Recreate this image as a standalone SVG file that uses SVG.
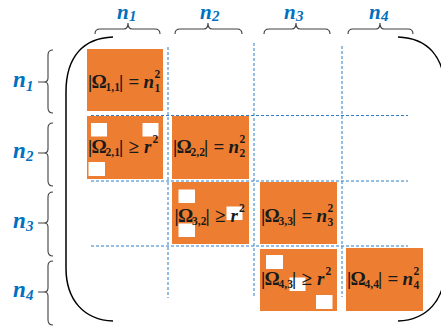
<svg xmlns="http://www.w3.org/2000/svg" width="441" height="331" viewBox="0 0 441 331">
<style>
.blk{fill:#ED7D31}
.occ{fill:#FFFFFF}
.t{font-family:"Liberation Serif",serif;font-weight:bold;font-size:19px;fill:#1A1A1A}
.s{font-size:11.5px}
.i{font-style:italic}
.lbl{font-family:"Liberation Serif",serif;font-weight:bold;font-style:italic;font-size:23px;fill:#0070C0}
.top{font-size:21px}
.lsub{font-size:15px;font-style:italic}
.brace{fill:none;stroke:#404040;stroke-width:1.1}
.grid{fill:none;stroke:#2E7DC6;stroke-width:1;stroke-dasharray:3 2}
.paren{fill:none;stroke:#000;stroke-width:1.5}
</style>
<rect width="441" height="331" fill="#FFFFFF"/>

<g id="connectors">
  <g id="grid">
    <line class="grid" x1="168" y1="47" x2="168" y2="298"/>
    <line class="grid" x1="254" y1="43" x2="254" y2="296"/>
    <line class="grid" x1="342" y1="46" x2="342" y2="297"/>
    <line class="grid" x1="91" y1="115.5" x2="408" y2="115.5"/>
    <line class="grid" x1="91" y1="181" x2="408" y2="181"/>
    <line class="grid" x1="91" y1="246" x2="408" y2="246"/>
  </g>
  <g id="matrix-parens">
    <path class="paren" d="M113,37 C84,38 66,56 66,92 L66,268 C66,300 84,320 113,321"/>
    <path class="paren" d="M398,37 C427,38 445,56 445,92 L445,268 C445,300 427,320 398,321"/>
  </g>
</g>

<g id="col-braces">
  <g id="col-n1">
    <path class="brace" d="M95,34 Q95,29 100,29 L124,29 Q128,29 128,23 Q128,29 132,29 L155,29 Q160,29 160,34"/>
    <text class="lbl top" y="18.5"><tspan x="117">n</tspan><tspan class="lsub" x="129" y="21">1</tspan></text>
  </g>
  <g id="col-n2">
    <path class="brace" d="M175,34 Q175,29 180,29 L204,29 Q208,29 208,23 Q208,29 212,29 L237,29 Q242,29 242,34"/>
    <text class="lbl top" y="18.5"><tspan x="200">n</tspan><tspan class="lsub" x="212" y="21">2</tspan></text>
  </g>
  <g id="col-n3">
    <path class="brace" d="M264,34 Q264,29 269,29 L292,29 Q296,29 296,23 Q296,29 300,29 L325,29 Q330,29 330,34"/>
    <text class="lbl top" y="18.5"><tspan x="284">n</tspan><tspan class="lsub" x="296" y="21">3</tspan></text>
  </g>
  <g id="col-n4">
    <path class="brace" d="M348,34 Q348,29 353,29 L376,29 Q380,29 380,23 Q380,29 384,29 L408,29 Q413,29 413,34"/>
    <text class="lbl top" y="18.5"><tspan x="369">n</tspan><tspan class="lsub" x="381" y="21">4</tspan></text>
  </g>
</g>

<g id="row-braces">
  <g id="row-n1">
    <path class="brace" d="M53,50 Q48,50 48,55 L48,78 Q48,82 44,82 L38,82 L44,82 Q48,82 48,86 L48,108 Q48,113 53,113"/>
    <text class="lbl" y="87"><tspan x="13">n</tspan><tspan class="lsub" x="26" y="91">1</tspan></text>
  </g>
  <g id="row-n2">
    <path class="brace" d="M53,123 Q48,123 48,128 L48,149 Q48,153 44,153 L38,153 L44,153 Q48,153 48,157 L48,181 Q48,186 53,186"/>
    <text class="lbl" y="158"><tspan x="13">n</tspan><tspan class="lsub" x="26" y="161">2</tspan></text>
  </g>
  <g id="row-n3">
    <path class="brace" d="M53,192 Q48,192 48,197 L48,219 Q48,223 44,223 L38,223 L44,223 Q48,223 48,227 L48,251 Q48,256 53,256"/>
    <text class="lbl" y="228"><tspan x="13">n</tspan><tspan class="lsub" x="26" y="231">3</tspan></text>
  </g>
  <g id="row-n4">
    <path class="brace" d="M53,261 Q48,261 48,266 L48,288 Q48,292 44,292 L38,292 L44,292 Q48,292 48,296 L48,320 Q48,325 53,325"/>
    <text class="lbl" y="297"><tspan x="13">n</tspan><tspan class="lsub" x="26" y="300">4</tspan></text>
  </g>
</g>

<g id="block-1-1">
  <rect class="blk" x="87" y="49" width="76" height="62"/>
  <text class="t" y="88"><tspan x="88">|</tspan><tspan x="91.5">Ω</tspan><tspan class="s" x="105.5" y="91">1,1</tspan><tspan x="119" y="88">|</tspan><tspan x="128.5">=</tspan><tspan class="i" x="143.5">n</tspan><tspan class="s" x="154.5" y="78">2</tspan><tspan class="s" x="154.5" y="92">1</tspan></text>
</g>
<g id="block-2-1">
  <rect class="blk" x="87" y="116" width="76" height="63"/>
  <rect class="occ" x="91" y="123" width="16" height="13.5"/>
  <rect class="occ" x="142.5" y="123" width="16" height="13.5"/>
  <rect class="occ" x="88.5" y="162" width="16.5" height="14"/>
  <text class="t" y="153"><tspan x="88">|</tspan><tspan x="91.5">Ω</tspan><tspan class="s" x="105.5" y="156">2,1</tspan><tspan x="119" y="153">|</tspan><tspan x="128.5">≥</tspan><tspan class="i" x="144">r</tspan><tspan class="s" x="152.5" y="143">2</tspan></text>
</g>
<g id="block-2-2">
  <rect class="blk" x="172" y="116" width="77" height="63"/>
  <text class="t" y="153"><tspan x="173">|</tspan><tspan x="176.5">Ω</tspan><tspan class="s" x="190.5" y="156">2,2</tspan><tspan x="204" y="153">|</tspan><tspan x="213.5">=</tspan><tspan class="i" x="228.5">n</tspan><tspan class="s" x="239.5" y="143">2</tspan><tspan class="s" x="239.5" y="157">2</tspan></text>
</g>
<g id="block-3-2">
  <rect class="blk" x="172" y="182" width="77" height="62"/>
  <rect class="occ" x="178.5" y="189.5" width="16.5" height="13.5"/>
  <rect class="occ" x="226.5" y="206.5" width="16" height="13.5"/>
  <rect class="occ" x="178.5" y="223.5" width="16.5" height="13.5"/>
  <text class="t" y="222"><tspan x="174.5">|</tspan><tspan x="178">Ω</tspan><tspan class="s" x="192" y="225">3,2</tspan><tspan x="205.5" y="222">|</tspan><tspan x="215">≥</tspan><tspan class="i" x="230.5">r</tspan><tspan class="s" x="239" y="212">2</tspan></text>
</g>
<g id="block-3-3">
  <rect class="blk" x="260" y="182" width="77" height="62"/>
  <text class="t" y="222"><tspan x="261">|</tspan><tspan x="264.5">Ω</tspan><tspan class="s" x="278.5" y="225">3,3</tspan><tspan x="292" y="222">|</tspan><tspan x="301.5">=</tspan><tspan class="i" x="316.5">n</tspan><tspan class="s" x="327.5" y="212">2</tspan><tspan class="s" x="327.5" y="226">3</tspan></text>
</g>
<g id="block-4-3">
  <rect class="blk" x="260" y="249" width="77" height="62"/>
  <rect class="occ" x="266" y="255" width="17" height="14"/>
  <rect class="occ" x="289.5" y="277.5" width="16" height="13.5"/>
  <rect class="occ" x="316" y="295" width="16.5" height="14"/>
  <text class="t" y="285"><tspan x="261">|</tspan><tspan x="264.5">Ω</tspan><tspan class="s" x="278.5" y="288">4,3</tspan><tspan x="292" y="285">|</tspan><tspan x="301.5">≥</tspan><tspan class="i" x="317">r</tspan><tspan class="s" x="325.5" y="275">2</tspan></text>
</g>
<g id="block-4-4">
  <rect class="blk" x="346" y="248" width="77" height="63"/>
  <text class="t" y="285"><tspan x="347">|</tspan><tspan x="350.5">Ω</tspan><tspan class="s" x="364.5" y="288">4,4</tspan><tspan x="378" y="285">|</tspan><tspan x="387.5">=</tspan><tspan class="i" x="402.5">n</tspan><tspan class="s" x="413.5" y="275">2</tspan><tspan class="s" x="413.5" y="289">4</tspan></text>
</g>
</svg>
